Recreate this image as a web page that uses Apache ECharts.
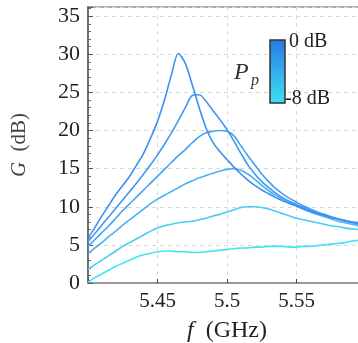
<!DOCTYPE html>
<html>
<head>
<meta charset="utf-8">
<script src="https://cdn.jsdelivr.net/npm/echarts@6/dist/echarts.min.js"></script>
<style>html,body{margin:0;padding:0;background:#fff;}#c{width:358px;height:343px;}</style>
</head>
<body>
<div id="c"></div>
<script>
var freq = [5.400,5.405,5.410,5.415,5.420,5.425,5.430,5.435,5.440,5.445,5.450,5.455,5.460,5.465,5.470,5.475,5.480,5.485,5.490,5.495,5.500,5.505,5.510,5.515,5.520,5.525,5.530,5.535,5.540,5.545,5.550,5.555,5.560,5.565,5.570,5.575,5.580,5.585,5.590,5.595,5.600];
var g0dB = [5.9,7.3,8.8,10.2,11.6,12.8,14.0,15.5,17.0,19.0,21.2,24.0,27.3,30.1,28.8,26.0,23.0,20.3,18.4,17.2,16.2,15.2,14.3,13.5,12.8,12.2,11.7,11.2,10.8,10.4,10.1,9.7,9.4,9.1,8.9,8.6,8.4,8.2,8.0,7.9,7.7];
var g1 = [5.4,6.5,7.6,8.7,9.8,10.9,12.0,13.1,14.3,15.5,16.8,18.2,19.7,21.3,23.0,24.6,24.7,23.8,22.6,21.4,20.1,18.6,17.0,15.5,14.3,13.3,12.5,11.8,11.2,10.7,10.3,9.9,9.5,9.2,8.9,8.6,8.4,8.2,8.0,7.8,7.6];
var g2 = [4.8,5.7,6.6,7.5,8.5,9.5,10.4,11.3,12.2,13.1,14.0,14.9,15.8,16.7,17.5,18.4,19.2,19.7,19.9,20.0,19.9,19.3,18.0,16.7,15.5,14.3,13.3,12.4,11.7,11.1,10.6,10.1,9.7,9.3,9.0,8.7,8.4,8.1,7.9,7.7,7.5];
var g3 = [3.8,4.6,5.3,6.1,6.8,7.6,8.3,9.0,9.7,10.4,11.0,11.5,12.0,12.5,13.0,13.4,13.8,14.1,14.4,14.7,14.9,15.0,14.8,14.3,13.6,12.8,12.1,11.5,11.0,10.5,10.1,9.7,9.3,9.0,8.7,8.4,8.1,7.9,7.7,7.5,7.3];
var g4 = [1.8,2.4,3.0,3.6,4.2,4.8,5.3,5.8,6.3,6.8,7.2,7.5,7.7,7.9,8.0,8.1,8.3,8.5,8.8,9.0,9.3,9.6,9.9,10.0,10.0,9.9,9.7,9.4,9.1,8.8,8.5,8.3,8.1,7.9,7.7,7.5,7.4,7.2,7.1,7.0,6.9];
var g8dB = [0.1,0.7,1.2,1.7,2.2,2.6,3.0,3.4,3.7,3.9,4.1,4.2,4.2,4.1,4.1,4.0,4.0,4.1,4.2,4.3,4.4,4.5,4.6,4.6,4.7,4.7,4.8,4.8,4.8,4.7,4.7,4.8,4.8,4.9,5.0,5.1,5.2,5.3,5.5,5.6,5.7];
var seriesValues = [g0dB, g1, g2, g3, g4, g8dB];
var seriesColors = ['#3d8ff0','#4297f2','#45a0f3','#47b2f4','#45cdf5','#40e4f5'];
var yTicks = [0,5,10,15,20,25,30,35];
var xTickLabels = ['5.45','5.5','5.55'];

var font = '"Liberation Serif","DejaVu Serif",serif';
var chart = echarts.init(document.getElementById('c'), null, {renderer:'canvas'});
var series = seriesValues.map(function(vals, i){
  return {
    type:'line', showSymbol:false, smooth:0.3, z: 10 - i,
    lineStyle:{color:seriesColors[i], width:1.6},
    data: freq.map(function(f,k){return [f, vals[k]];})
  };
});
chart.setOption({
  animation:false,
  backgroundColor:'#fff',
  grid:{left:88, right:-8, top:7, bottom:60, containLabel:false, outerBoundsMode:'none', show:true, borderColor:'#aaa', borderWidth:2, backgroundColor:'transparent'},
  xAxis:{
    type:'value', min:5.4, max:5.6, interval:0.05,
    name:'{i|f}  (GHz)', nameLocation:'middle', nameGap:36,
    nameTextStyle:{fontFamily:font, fontSize:24, color:'#222', rich:{i:{fontFamily:font, fontStyle:'italic', fontSize:24, color:'#222'}}},
    axisLine:{show:true, lineStyle:{color:'#999', width:2}},
    axisTick:{show:true, inside:true, length:4, lineStyle:{color:'#444'}},
    axisLabel:{fontFamily:font, fontSize:21, color:'#222', margin:8,
      formatter:function(v){var s=String(Math.round(v*100)/100); return xTickLabels.indexOf(s)>=0?s:'';}},
    splitLine:{show:true, lineStyle:{color:'#d8d8d8', type:[4,4], width:1}}
  },
  yAxis:{
    type:'value', min:0, max:36.2, interval:5,
    name:'{i|G}  (dB)', nameLocation:'middle', nameGap:58, nameRotate:90,
    nameTextStyle:{fontFamily:font, fontSize:21, color:'#444', rich:{i:{fontFamily:font, fontStyle:'italic', fontSize:21, color:'#444'}}},
    axisLine:{show:true, lineStyle:{color:'#555', width:1.5}},
    axisTick:{show:true, inside:true, length:5, lineStyle:{color:'#555'}},
    minorTick:{show:true, splitNumber:5, length:3, lineStyle:{color:'#666'}},
    axisLabel:{fontFamily:font, fontSize:22, color:'#222', margin:8,
      formatter:function(v){return yTicks.indexOf(Math.round(v*10)/10)>=0 && Math.abs(v-Math.round(v))<1e-6 ? String(Math.round(v)) : '';}},
    splitLine:{show:true, lineStyle:{color:'#d8d8d8', type:[4,4], width:1}}
  },
  graphic:[
    {type:'rect', shape:{x:270, y:40, width:15, height:63}, z:100,
     style:{fill:new echarts.graphic.LinearGradient(0,0,0,1,[{offset:0,color:'#2a78e0'},{offset:0.5,color:'#34aeec'},{offset:1,color:'#40e0f2'}]), stroke:'#333', lineWidth:1.5}},
    {type:'group', z:101, children:[45,48,52,55,62,73,92].map(function(y){
      return {type:'line', shape:{x1:271, y1:y, x2:284, y2:y}, style:{stroke:'rgba(255,255,255,0.8)', lineWidth:1}};
    })},
    {type:'text', x:289, y:42, z:102, style:{text:'0 dB', font:'20px '+font, fill:'#222', verticalAlign:'middle'}},
    {type:'text', x:285, y:99, z:102, style:{text:'-8 dB', font:'20px '+font, fill:'#222', verticalAlign:'middle'}},
    {type:'text', x:234, y:73, z:102, style:{text:'P', font:'italic 24px '+font, fill:'#333', verticalAlign:'middle'}},
    {type:'text', x:251, y:81, z:102, style:{text:'p', font:'italic 16px '+font, fill:'#333', verticalAlign:'middle'}}
  ],
  series:series
});
</script>
</body>
</html>
